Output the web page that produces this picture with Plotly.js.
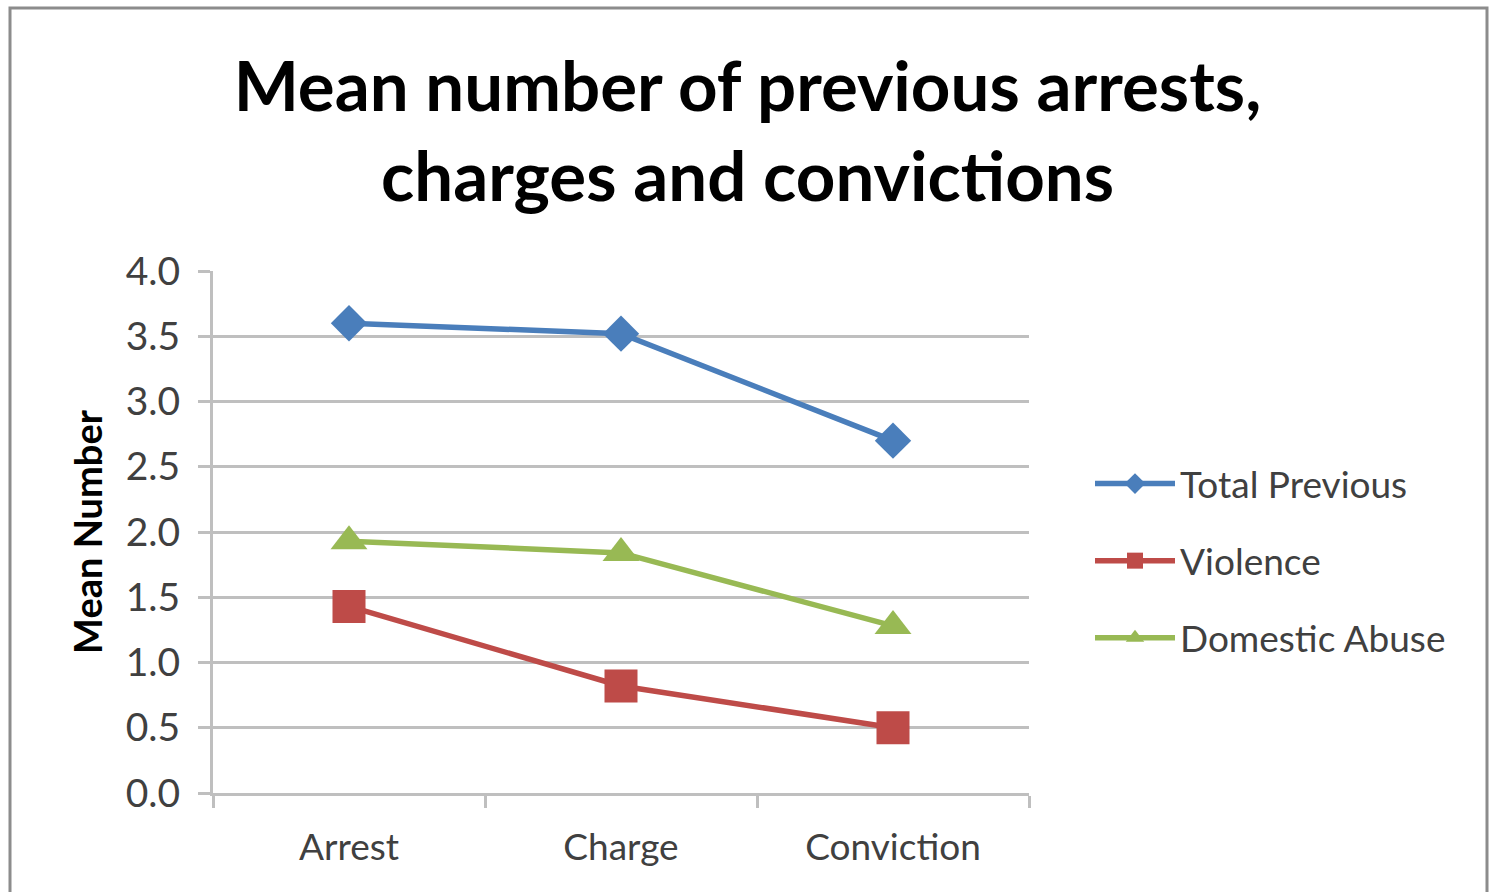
<!DOCTYPE html>
<html><head><meta charset="utf-8">
<script src="https://cdn.plot.ly/plotly-3.0.1.min.js"></script>
<style>html,body{margin:0;padding:0;background:#fff;}#chart{width:1495px;height:892px;}</style>
</head><body><div id="chart"></div>
<script>
const categories = ["Arrest", "Charge", "Conviction"];
const totalPrevious = [3.60, 3.52, 2.70];
const violence = [1.43, 0.82, 0.50];
const domesticAbuse = [1.93, 1.84, 1.28];
const yTickVals = [0, 0.5, 1, 1.5, 2, 2.5, 3, 3.5, 4];
const yTickText = ["0.0","0.5","1.0","1.5","2.0","2.5","3.0","3.5","4.0"];

const FONT = "Lato, 'Open Sans', sans-serif";
const traces = [
  {x: categories, y: totalPrevious, name: "Total Previous", legendgroup: "a", type: "scatter", mode: "lines+markers",
   line: {color: "#4A7EBB", width: 5.5}, marker: {symbol: "diamond", size: 28, color: "#4A7EBB"}},
  {x: categories, y: violence, name: "Violence", legendgroup: "b", type: "scatter", mode: "lines+markers",
   line: {color: "#BE4B48", width: 5.5}, marker: {symbol: "square", size: 33, color: "#BE4B48"}},
  {x: categories, y: domesticAbuse, name: "Domestic Abuse", legendgroup: "c", type: "scatter", mode: "lines+markers",
   line: {color: "#98B954", width: 5.5}, marker: {symbol: "triangle-up", size: 32, color: "#98B954"}}
];

const L = 213, R = 1029, T = 271, B = 793;
const px = v => (v - L) / (R - L);
const py = v => (B - v) / (B - T);

const layout = {
  width: 1495, height: 892,
  margin: {l: L, r: 1495 - R, t: T, b: 892 - B, pad: 0},
  paper_bgcolor: "#fff", plot_bgcolor: "#fff",
  font: {family: FONT, color: "#404040"},
  title: {text: "<b>Mean number of previous arrests,<br>charges and convictions</b>",
          font: {family: FONT, size: 69, color: "#000"},
          x: 0.5, xanchor: "center", y: 1 - 111 / 892, yanchor: "middle", yref: "container"},
  xaxis: {type: "category", range: [-0.5, 2.5], showgrid: false, zeroline: false,
          showline: true, linecolor: "#BFBFBF", linewidth: 3,
          ticks: "outside", tickson: "boundaries", ticklen: 12, tickwidth: 3, tickcolor: "#BFBFBF",
          ticklabelstandoff: 20,
          tickfont: {family: FONT, size: 37, color: "#404040"}, automargin: false},
  yaxis: {range: [0, 4], tickvals: yTickVals, ticktext: yTickText,
          showgrid: true, gridcolor: "#BFBFBF", gridwidth: 3, zeroline: false,
          showline: true, linecolor: "#BFBFBF", linewidth: 3,
          ticks: "outside", ticklen: 12, tickwidth: 3, tickcolor: "#BFBFBF",
          ticklabelstandoff: 10,
          tickfont: {family: FONT, size: 39, color: "#404040"},
          title: {text: "<b>Mean Number</b>", font: {family: FONT, size: 38, color: "#000"}, standoff: 12},
          automargin: false},
  legend: {x: px(1090), xanchor: "left", y: py(561), yanchor: "middle",
           font: {family: FONT, size: 37, color: "#404040"}, itemwidth: 80,
           tracegroupgap: 26, bgcolor: "rgba(0,0,0,0)"},
  showlegend: true,
  shapes: [
    {type: "rect", xref: "paper", yref: "paper", x0: px(10), x1: px(1487), y0: py(1000), y1: py(8),
     line: {color: "#8C8C8C", width: 3}, fillcolor: "rgba(0,0,0,0)", layer: "below"}
  ]
};

Plotly.newPlot("chart", traces, layout, {displayModeBar: false, staticPlot: true});
</script></body></html>
